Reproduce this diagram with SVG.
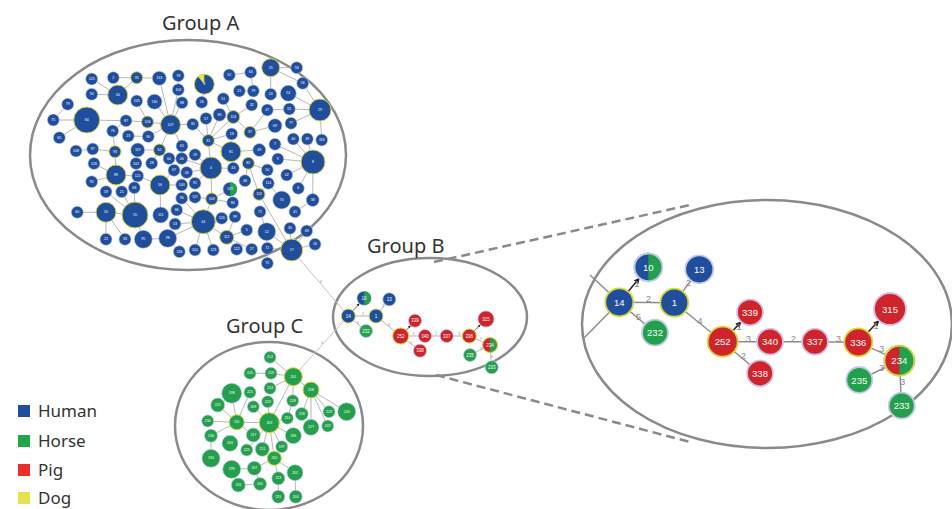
<svg xmlns="http://www.w3.org/2000/svg" width="952" height="509" viewBox="0 0 952 509">
<style>
.h{fill:#1f4e9c;stroke:#c3c9ea;stroke-width:.6}
.g{fill:#22a04b;stroke:#c3c9ea;stroke-width:.6}
.r{fill:#d0232a;stroke:#d0c3ea;stroke-width:.6}
.y{stroke:#d4d83a;stroke-width:1}
.big{stroke-width:1.8}
.ring{fill:none}
.ta{font-family:"Liberation Sans",sans-serif;font-size:3.5px;fill:#fff;text-anchor:middle;dominant-baseline:central}
.tb{font-family:"Liberation Sans",sans-serif;font-size:4.5px;fill:#fff;text-anchor:middle;dominant-baseline:central}
.tz{font-family:"Liberation Sans",sans-serif;font-size:9.5px;fill:#fff;text-anchor:middle;dominant-baseline:central}
.e{stroke:#9a9a9a;stroke-width:.7;fill:none}
.ez{stroke:#8c8c8c;stroke-width:1.4;fill:none}
.ea{stroke:#222;stroke-width:1.5;fill:none;marker-end:url(#ar)}
.eb{stroke:#333;stroke-width:.7;fill:none;marker-end:url(#ar)}
.lz{font-family:"Liberation Sans",sans-serif;font-size:9.5px;fill:#8a8a8a;text-anchor:middle;dominant-baseline:central}
.lb{font-family:"Liberation Sans",sans-serif;font-size:3.6px;fill:#8a8a8a;text-anchor:middle;dominant-baseline:central}
.grp{fill:none;stroke:#8a8a8a;stroke-width:2.5}
.dash{stroke:#8a8a8a;stroke-width:2.5;stroke-dasharray:9 5;fill:none}
.title{font-family:"Noto Sans",sans-serif;font-size:20px;fill:#333}
.leg{font-family:"Noto Sans",sans-serif;font-size:17px;fill:#333}
</style>
<defs>
<marker id="ar" viewBox="0 0 10 10" refX="9" refY="5" markerWidth="4" markerHeight="4" orient="auto"><path d="M0,0 L10,5 L0,10 z" fill="#222"/></marker>
</defs>
<rect width="952" height="509" fill="#fff"/>

<g id="group-outlines">
<ellipse class="grp" cx="188" cy="155" rx="158" ry="115"/>
<ellipse class="grp" cx="430" cy="317" rx="97" ry="59"/>
<ellipse class="grp" cx="269" cy="426" rx="94" ry="84"/>
<ellipse class="grp" cx="767" cy="324" rx="185" ry="124"/>
<line class="dash" x1="434" y1="262" x2="690" y2="205"/>
<line class="dash" x1="436" y1="375" x2="690" y2="442"/>
</g>

<g id="titles">
<text class="title" x="162" y="30">Group A</text>
<text class="title" x="367" y="253">Group B</text>
<text class="title" x="226" y="333">Group C</text>
</g>

<g id="legend">
<rect x="18" y="405" width="12" height="12" fill="#1f4e9c"/><text class="leg" x="38" y="417">Human</text>
<rect x="18" y="435" width="12" height="12" fill="#22a84a"/><text class="leg" x="38" y="447">Horse</text>
<rect x="18" y="464" width="12" height="12" fill="#e8302a"/><text class="leg" x="38" y="476">Pig</text>
<rect x="18" y="492" width="12" height="12" fill="#e6e34a"/><text class="leg" x="38" y="504">Dog</text>
</g>

<g id="connectors">
<line class="e" x1="91.7" y1="79" x2="117.7" y2="95"/>
<line class="e" x1="113.3" y1="77.7" x2="136.7" y2="77.7"/>
<line class="e" x1="136.7" y1="77.7" x2="117.7" y2="95"/>
<line class="e" x1="136.7" y1="77.7" x2="159.3" y2="78.3"/>
<line class="e" x1="91.7" y1="94.3" x2="117.7" y2="95"/>
<line class="e" x1="159.3" y1="78.3" x2="170.5" y2="124.7"/>
<line class="e" x1="178.3" y1="89.7" x2="170.5" y2="124.7"/>
<line class="e" x1="178.3" y1="75.7" x2="178.3" y2="89.7"/>
<line class="e" x1="182" y1="102.7" x2="170.5" y2="124.7"/>
<line class="e" x1="154.5" y1="101.7" x2="170.5" y2="124.7"/>
<line class="e" x1="136.7" y1="101" x2="147.5" y2="122"/>
<line class="e" x1="67.7" y1="104.3" x2="53.3" y2="120"/>
<line class="e" x1="53.3" y1="120" x2="86.7" y2="120"/>
<line class="e" x1="59.3" y1="137.7" x2="86.7" y2="120"/>
<line class="e" x1="86.7" y1="120" x2="126" y2="120.7"/>
<line class="e" x1="126" y1="120.7" x2="147.5" y2="122"/>
<line class="e" x1="147.5" y1="122" x2="170.5" y2="124.7"/>
<line class="e" x1="112.7" y1="131" x2="126" y2="120.7"/>
<line class="e" x1="112.7" y1="131" x2="115" y2="151.7"/>
<line class="e" x1="128.3" y1="136" x2="148.3" y2="136.5"/>
<line class="e" x1="148.3" y1="136.5" x2="170.5" y2="124.7"/>
<line class="e" x1="170.5" y1="124.7" x2="159.5" y2="150"/>
<line class="e" x1="170.5" y1="124.7" x2="192.7" y2="124.3"/>
<line class="e" x1="170.5" y1="124.7" x2="182" y2="146"/>
<line class="e" x1="76" y1="151" x2="92.7" y2="149"/>
<line class="e" x1="92.7" y1="149" x2="115" y2="151.7"/>
<line class="e" x1="115" y1="151.7" x2="116" y2="175"/>
<line class="e" x1="137.7" y1="150" x2="159.5" y2="150"/>
<line class="e" x1="159.5" y1="150" x2="169" y2="158.5"/>
<line class="e" x1="159.5" y1="150" x2="151.7" y2="163.3"/>
<line class="e" x1="169" y1="158.5" x2="181.7" y2="158.5"/>
<line class="e" x1="94" y1="163.5" x2="116" y2="175"/>
<line class="e" x1="91.7" y1="181.7" x2="116" y2="175"/>
<line class="e" x1="116" y1="175" x2="137.7" y2="176"/>
<line class="e" x1="136" y1="163.5" x2="137.7" y2="176"/>
<line class="e" x1="137.7" y1="176" x2="160" y2="185"/>
<line class="e" x1="174" y1="170.3" x2="160" y2="185"/>
<line class="e" x1="181.7" y1="185" x2="160" y2="185"/>
<line class="e" x1="160" y1="185" x2="160.7" y2="215"/>
<line class="e" x1="134.3" y1="187.7" x2="135" y2="215"/>
<line class="e" x1="106" y1="191.7" x2="135" y2="215"/>
<line class="e" x1="121.7" y1="191.7" x2="135" y2="215"/>
<line class="e" x1="77.3" y1="212.3" x2="106" y2="212.3"/>
<line class="e" x1="106" y1="212.3" x2="135" y2="215"/>
<line class="e" x1="106" y1="212.3" x2="106" y2="239.3"/>
<line class="e" x1="106" y1="212.3" x2="125" y2="239.3"/>
<line class="e" x1="135" y1="215" x2="143.3" y2="239.3"/>
<line class="e" x1="143.3" y1="239.3" x2="167.7" y2="238.3"/>
<line class="e" x1="167.7" y1="238.3" x2="179.3" y2="251.7"/>
<line class="e" x1="167.7" y1="238.3" x2="203.3" y2="221.7"/>
<line class="e" x1="175" y1="224" x2="203.3" y2="221.7"/>
<line class="e" x1="176.7" y1="210" x2="203.3" y2="221.7"/>
<line class="e" x1="181.7" y1="198.3" x2="203.3" y2="221.7"/>
<line class="e" x1="229.3" y1="75" x2="250.7" y2="72.3"/>
<line class="e" x1="270.7" y1="67.7" x2="296.7" y2="67.7"/>
<line class="e" x1="270.7" y1="67.7" x2="302.7" y2="83.3"/>
<line class="e" x1="270.7" y1="67.7" x2="270.7" y2="94.3"/>
<line class="e" x1="302.7" y1="83.3" x2="320" y2="110"/>
<line class="e" x1="288.3" y1="93.3" x2="320" y2="110"/>
<line class="e" x1="289.3" y1="109" x2="320" y2="110"/>
<line class="e" x1="267.3" y1="110" x2="289.3" y2="109"/>
<line class="e" x1="291" y1="123.3" x2="320" y2="110"/>
<line class="e" x1="320" y1="110" x2="321.7" y2="140"/>
<line class="e" x1="239.3" y1="91" x2="253.3" y2="91"/>
<line class="e" x1="250.7" y1="72.3" x2="253.3" y2="91"/>
<line class="e" x1="223.3" y1="98.8" x2="233.3" y2="117"/>
<line class="e" x1="204.3" y1="84.3" x2="201.7" y2="102.3"/>
<line class="e" x1="206" y1="118.5" x2="208.3" y2="140.5"/>
<line class="e" x1="219.5" y1="114.7" x2="208.3" y2="140.5"/>
<line class="e" x1="192.7" y1="124.3" x2="208.3" y2="140.5"/>
<line class="e" x1="233.3" y1="117" x2="208.3" y2="140.5"/>
<line class="e" x1="233.3" y1="117" x2="251.7" y2="105"/>
<line class="e" x1="208.3" y1="140.5" x2="231.7" y2="134"/>
<line class="e" x1="208.3" y1="140.5" x2="231" y2="151.7"/>
<line class="e" x1="250" y1="132.3" x2="267.3" y2="110"/>
<line class="e" x1="250" y1="132.3" x2="275" y2="125.7"/>
<line class="e" x1="250" y1="132.3" x2="233.3" y2="117"/>
<line class="e" x1="293.3" y1="139" x2="313" y2="162"/>
<line class="e" x1="307.3" y1="139" x2="313" y2="162"/>
<line class="e" x1="275" y1="144.3" x2="313" y2="162"/>
<line class="e" x1="277.8" y1="159" x2="313" y2="162"/>
<line class="e" x1="231" y1="151.7" x2="259.3" y2="150"/>
<line class="e" x1="231" y1="151.7" x2="233.3" y2="168.3"/>
<line class="e" x1="211" y1="168" x2="233.3" y2="168.3"/>
<line class="e" x1="211" y1="168" x2="186.7" y2="172.5"/>
<line class="e" x1="211" y1="168" x2="208.3" y2="140.5"/>
<line class="e" x1="211" y1="168" x2="195" y2="154.7"/>
<line class="e" x1="211" y1="168" x2="195" y2="183.3"/>
<line class="e" x1="211" y1="168" x2="211.7" y2="199"/>
<line class="e" x1="211" y1="168" x2="181.7" y2="158.5"/>
<line class="e" x1="248.3" y1="163.3" x2="245" y2="180.7"/>
<line class="e" x1="248.3" y1="163.3" x2="259" y2="194.3"/>
<line class="e" x1="248.3" y1="163.3" x2="267.3" y2="170"/>
<line class="e" x1="259" y1="194.3" x2="291.7" y2="250"/>
<line class="e" x1="259" y1="194.3" x2="268.3" y2="183.3"/>
<line class="e" x1="286.7" y1="175" x2="313" y2="162"/>
<line class="e" x1="298.3" y1="188.3" x2="313" y2="162"/>
<line class="e" x1="312.7" y1="200" x2="313" y2="162"/>
<line class="e" x1="295" y1="211.7" x2="312.7" y2="200"/>
<line class="e" x1="268.3" y1="183.3" x2="281.7" y2="200"/>
<line class="e" x1="211.7" y1="199" x2="232.7" y2="202.7"/>
<line class="e" x1="211.7" y1="199" x2="195" y2="197.3"/>
<line class="e" x1="211.7" y1="199" x2="203.3" y2="221.7"/>
<line class="e" x1="230" y1="189.3" x2="211.7" y2="199"/>
<line class="e" x1="203.3" y1="221.7" x2="221.7" y2="218.3"/>
<line class="e" x1="203.3" y1="221.7" x2="226.7" y2="237.3"/>
<line class="e" x1="235" y1="216.7" x2="226.7" y2="237.3"/>
<line class="e" x1="226.7" y1="237.3" x2="246.7" y2="230"/>
<line class="e" x1="226.7" y1="237.3" x2="236.7" y2="249.3"/>
<line class="e" x1="226.7" y1="237.3" x2="251.7" y2="249.3"/>
<line class="e" x1="203.3" y1="221.7" x2="195" y2="250"/>
<line class="e" x1="203.3" y1="221.7" x2="213.3" y2="250"/>
<line class="e" x1="266.7" y1="231.7" x2="260" y2="211.7"/>
<line class="e" x1="266.7" y1="231.7" x2="267.3" y2="248.3"/>
<line class="e" x1="267.3" y1="248.3" x2="291.7" y2="250"/>
<line class="e" x1="290" y1="228.3" x2="291.7" y2="250"/>
<line class="e" x1="306.7" y1="231" x2="291.7" y2="250"/>
<line class="e" x1="315" y1="244.3" x2="291.7" y2="250"/>
<line class="e" x1="266.7" y1="231.7" x2="291.7" y2="250"/>
<line class="e" x1="267.3" y1="263.3" x2="267.3" y2="248.3"/>

<line stroke="#c4c4c4" stroke-width="1" x1="291.7" y1="250" x2="348.3" y2="316"/>
<line stroke="#c4c4c4" stroke-width="1" x1="293.3" y1="376.7" x2="348.3" y2="316"/>
<text class="lb" x="321" y="282">6</text>
<text class="lb" x="322" y="343">4</text>

<line class="e" x1="270" y1="357.3" x2="293.3" y2="376.7"/>
<line class="e" x1="250" y1="373.3" x2="271" y2="373.3"/>
<line class="e" x1="271" y1="373.3" x2="293.3" y2="376.7"/>
<line class="e" x1="270" y1="388.3" x2="293.3" y2="376.7"/>
<line class="e" x1="293.3" y1="376.7" x2="311" y2="390"/>
<line class="e" x1="293.3" y1="376.7" x2="269.3" y2="422.7"/>
<line class="e" x1="293.3" y1="376.7" x2="292.7" y2="400.7"/>
<line class="e" x1="311" y1="390" x2="301.7" y2="414"/>
<line class="e" x1="311" y1="390" x2="311" y2="427.3"/>
<line class="e" x1="311" y1="390" x2="329" y2="411.7"/>
<line class="e" x1="311" y1="390" x2="327.7" y2="426"/>
<line class="e" x1="311" y1="390" x2="346.7" y2="411.7"/>
<line class="e" x1="231.7" y1="393.3" x2="236.7" y2="422.3"/>
<line class="e" x1="250" y1="392.3" x2="236.7" y2="422.3"/>
<line class="e" x1="217.7" y1="405" x2="236.7" y2="422.3"/>
<line class="e" x1="207.7" y1="421" x2="236.7" y2="422.3"/>
<line class="e" x1="211" y1="435.7" x2="236.7" y2="422.3"/>
<line class="e" x1="236.7" y1="422.3" x2="269.3" y2="422.7"/>
<line class="e" x1="253.3" y1="406.7" x2="269.3" y2="422.7"/>
<line class="e" x1="267.7" y1="401.7" x2="269.3" y2="422.7"/>
<line class="e" x1="236.7" y1="422.3" x2="253.3" y2="435"/>
<line class="e" x1="269.3" y1="422.7" x2="287.3" y2="418.3"/>
<line class="e" x1="292.7" y1="400.7" x2="287.3" y2="418.3"/>
<line class="e" x1="269.3" y1="422.7" x2="293.3" y2="435.7"/>
<line class="e" x1="269.3" y1="422.7" x2="262.3" y2="449.3"/>
<line class="e" x1="269.3" y1="422.7" x2="246.7" y2="450"/>
<line class="e" x1="269.3" y1="422.7" x2="274.3" y2="458.3"/>
<line class="e" x1="269.3" y1="422.7" x2="281.7" y2="446.7"/>
<line class="e" x1="211" y1="435.7" x2="211" y2="458.3"/>
<line class="e" x1="274.3" y1="458.3" x2="254.3" y2="468.3"/>
<line class="e" x1="274.3" y1="458.3" x2="278.3" y2="478.3"/>
<line class="e" x1="274.3" y1="458.3" x2="295" y2="472.7"/>
<line class="e" x1="231.7" y1="469.3" x2="254.3" y2="468.3"/>
<line class="e" x1="238.3" y1="485" x2="260" y2="484"/>
<line class="e" x1="260" y1="484" x2="254.3" y2="468.3"/>
<line class="e" x1="278.3" y1="478.3" x2="278.3" y2="496.7"/>
<line class="e" x1="295" y1="472.7" x2="295.7" y2="496.7"/>

<line class="e" x1="348.3" y1="316" x2="376" y2="316"/>
<line class="e" x1="376" y1="316" x2="389.3" y2="299.3"/>
<line class="e" x1="348.3" y1="316" x2="366" y2="331"/>
<line class="e" x1="376" y1="316" x2="400.7" y2="336"/>
<line class="e" x1="400.7" y1="336" x2="425" y2="336"/>
<line class="e" x1="400.7" y1="336" x2="420" y2="350.7"/>
<line class="e" x1="425" y1="336" x2="446.7" y2="336"/>
<line class="e" x1="446.7" y1="336" x2="469.3" y2="336"/>
<line class="e" x1="469.3" y1="336" x2="490" y2="345"/>
<line class="e" x1="470" y1="355" x2="490" y2="345"/>
<line class="e" x1="490" y1="345" x2="491.7" y2="367.3"/>
<line class="eb" x1="352.9" y1="310.8" x2="359.4" y2="303.5"/>
<line class="eb" x1="406.2" y1="330.1" x2="410.6" y2="325.5"/>
<line class="eb" x1="474.2" y1="331" x2="480.4" y2="324.7"/>
<text class="lb" x="356.8" y="306">1</text>
<text class="lb" x="383.2" y="306">2</text>
<text class="lb" x="363" y="314.2">2</text>
<text class="lb" x="357.9" y="323">5</text>
<text class="lb" x="389.1" y="325">4</text>
<text class="lb" x="408.5" y="328">1</text>
<text class="lb" x="413.6" y="334.2">3</text>
<text class="lb" x="411" y="342.7">2</text>
<text class="lb" x="436.3" y="334.2">2</text>
<text class="lb" x="459.1" y="334.2">3</text>
<text class="lb" x="477.7" y="327.5">1</text>
<text class="lb" x="481.1" y="339.3">3</text>
<text class="lb" x="481.1" y="348.9">3</text>
<text class="lb" x="491.7" y="356.5">3</text>

<line class="ez" x1="619.3" y1="302.3" x2="590" y2="275"/>
<line class="ez" x1="619.3" y1="302.3" x2="583.5" y2="338.5"/>
<line class="ez" x1="619.3" y1="302.3" x2="674.3" y2="302.7"/>
<line class="ez" x1="674.3" y1="302.7" x2="699.3" y2="269.3"/>
<line class="ez" x1="619.3" y1="302.3" x2="655" y2="332.7"/>
<line class="ez" x1="674.3" y1="302.7" x2="722.7" y2="341.7"/>
<line class="ez" x1="722.7" y1="341.7" x2="770" y2="341.7"/>
<line class="ez" x1="722.7" y1="341.7" x2="760" y2="373.3"/>
<line class="ez" x1="770" y1="341.7" x2="815" y2="341.7"/>
<line class="ez" x1="815" y1="341.7" x2="858.3" y2="342.3"/>
<line class="ez" x1="858.3" y1="342.3" x2="899.3" y2="360.7"/>
<line class="ez" x1="859.3" y1="380" x2="899.3" y2="360.7"/>
<line class="ez" x1="899.3" y1="360.7" x2="901.7" y2="405.7"/>
<line class="ea" x1="628.2" y1="291.5" x2="639.4" y2="278.1"/>
<line class="ea" x1="732.9" y1="330.7" x2="741.1" y2="321.8"/>
<line class="ea" x1="868" y1="332.2" x2="879" y2="320.6"/>
<text class="lz" x="637" y="283">1</text>
<text class="lz" x="688.3" y="282.7">2</text>
<text class="lz" x="648.3" y="298.5">2</text>
<text class="lz" x="638.3" y="316">5</text>
<text class="lz" x="700" y="320">4</text>
<text class="lz" x="739" y="326">1</text>
<text class="lz" x="748.3" y="338">3</text>
<text class="lz" x="743.3" y="355">2</text>
<text class="lz" x="793.3" y="338">2</text>
<text class="lz" x="838.3" y="338">3</text>
<text class="lz" x="876" y="325">1</text>
<text class="lz" x="881.7" y="348.3">3</text>
<text class="lz" x="881.7" y="367.3">3</text>
<text class="lz" x="902.7" y="381.7">3</text>
</g>

<g id="nodes-group-a">
<g id="a125"><circle class="h" cx="91.7" cy="79" r="6"/><text class="ta" x="91.7" y="79">125</text></g>
<g id="a2"><circle class="h" cx="113.3" cy="77.7" r="6"/><text class="ta" x="113.3" y="77.7">2</text></g>
<g id="a35"><circle class="h y" cx="136.7" cy="77.7" r="6"/><text class="ta" x="136.7" y="77.7">35</text></g>
<g id="a113"><circle class="h" cx="159.3" cy="78.3" r="7"/><text class="ta" x="159.3" y="78.3">113</text></g>
<g id="a78"><circle class="h" cx="178.3" cy="75.7" r="6"/><text class="ta" x="178.3" y="75.7">78</text></g>
<g id="a104"><circle class="h" cx="178.3" cy="89.7" r="6"/><text class="ta" x="178.3" y="89.7">104</text></g>
<g id="a94"><circle class="h" cx="91.7" cy="94.3" r="6"/><text class="ta" x="91.7" y="94.3">94</text></g>
<g id="a34"><circle class="h y" cx="117.7" cy="95" r="10"/><text class="ta" x="117.7" y="95">34</text></g>
<g id="a105"><circle class="h" cx="136.7" cy="101" r="6"/><text class="ta" x="136.7" y="101">105</text></g>
<g id="a110"><circle class="h" cx="154.5" cy="101.7" r="7.5"/><text class="ta" x="154.5" y="101.7">110</text></g>
<g id="a88"><circle class="h" cx="182" cy="102.7" r="6"/><text class="ta" x="182" y="102.7">88</text></g>
<g id="a79"><circle class="h" cx="67.7" cy="104.3" r="6"/><text class="ta" x="67.7" y="104.3">79</text></g>
<g id="a75"><circle class="h" cx="53.3" cy="120" r="6"/><text class="ta" x="53.3" y="120">75</text></g>
<g id="a84"><circle class="h y" cx="86.7" cy="120" r="13"/><text class="ta" x="86.7" y="120">84</text></g>
<g id="a87"><circle class="h" cx="126" cy="120.7" r="6"/><text class="ta" x="126" y="120.7">87</text></g>
<g id="a106"><circle class="h y" cx="147.5" cy="122" r="6"/><text class="ta" x="147.5" y="122">106</text></g>
<g id="a107"><circle class="h y" cx="170.5" cy="124.7" r="10"/><text class="ta" x="170.5" y="124.7">107</text></g>
<g id="a65"><circle class="h" cx="59.3" cy="137.7" r="6"/><text class="ta" x="59.3" y="137.7">65</text></g>
<g id="a76"><circle class="h" cx="112.7" cy="131" r="6"/><text class="ta" x="112.7" y="131">76</text></g>
<g id="a23"><circle class="h" cx="128.3" cy="136" r="6"/><text class="ta" x="128.3" y="136">23</text></g>
<g id="a90"><circle class="h" cx="148.3" cy="136.5" r="6"/><text class="ta" x="148.3" y="136.5">90</text></g>
<g id="a61"><circle class="h" cx="182" cy="146" r="6"/><text class="ta" x="182" y="146">61</text></g>
<g id="a108"><circle class="h" cx="76" cy="151" r="6"/><text class="ta" x="76" y="151">108</text></g>
<g id="a97"><circle class="h" cx="92.7" cy="149" r="6"/><text class="ta" x="92.7" y="149">97</text></g>
<g id="a93"><circle class="h y" cx="115" cy="151.7" r="6"/><text class="ta" x="115" y="151.7">93</text></g>
<g id="a119"><circle class="h" cx="137.7" cy="150" r="7"/><text class="ta" x="137.7" y="150">119</text></g>
<g id="a62"><circle class="h y" cx="159.5" cy="150" r="6"/><text class="ta" x="159.5" y="150">62</text></g>
<g id="a64"><circle class="h" cx="169" cy="158.5" r="6"/><text class="ta" x="169" y="158.5">64</text></g>
<g id="a46"><circle class="h" cx="181.7" cy="158.5" r="6"/><text class="ta" x="181.7" y="158.5">46</text></g>
<g id="a126"><circle class="h" cx="94" cy="163.5" r="6"/><text class="ta" x="94" y="163.5">126</text></g>
<g id="a102"><circle class="h" cx="136" cy="163.5" r="6"/><text class="ta" x="136" y="163.5">102</text></g>
<g id="a28"><circle class="h" cx="151.7" cy="163.3" r="6"/><text class="ta" x="151.7" y="163.3">28</text></g>
<g id="a3"><circle class="h y" cx="204.3" cy="84.3" r="10"/><path d="M204.3,84.3 L204.3,74.3 A10,10 0 0 0 197.9,76.6 Z" fill="#e6e34a"/><text class="ta" x="204.3" y="84.3">3</text></g>
<g id="a52"><circle class="h" cx="229.3" cy="75" r="6"/><text class="ta" x="229.3" y="75">52</text></g>
<g id="a63"><circle class="h" cx="250.7" cy="72.3" r="6"/><text class="ta" x="250.7" y="72.3">63</text></g>
<g id="a25"><circle class="h y" cx="270.7" cy="67.7" r="9"/><text class="ta" x="270.7" y="67.7">25</text></g>
<g id="a58"><circle class="h" cx="296.7" cy="67.7" r="6"/><text class="ta" x="296.7" y="67.7">58</text></g>
<g id="a21"><circle class="h" cx="239.3" cy="91" r="6"/><text class="ta" x="239.3" y="91">21</text></g>
<g id="a79b"><circle class="h" cx="253.3" cy="91" r="6"/><text class="ta" x="253.3" y="91">79</text></g>
<g id="a56"><circle class="h" cx="302.7" cy="83.3" r="6"/><text class="ta" x="302.7" y="83.3">56</text></g>
<g id="a26"><circle class="h" cx="201.7" cy="102.3" r="6"/><text class="ta" x="201.7" y="102.3">26</text></g>
<g id="a51"><circle class="h" cx="223.3" cy="98.8" r="6"/><text class="ta" x="223.3" y="98.8">51</text></g>
<g id="a24"><circle class="h" cx="270.7" cy="94.3" r="6"/><text class="ta" x="270.7" y="94.3">24</text></g>
<g id="a54"><circle class="h" cx="288.3" cy="93.3" r="8"/><text class="ta" x="288.3" y="93.3">54</text></g>
<g id="a32"><circle class="h" cx="251.7" cy="105" r="6"/><text class="ta" x="251.7" y="105">32</text></g>
<g id="a57"><circle class="h" cx="206" cy="118.5" r="6"/><text class="ta" x="206" y="118.5">57</text></g>
<g id="a83"><circle class="h" cx="219.5" cy="114.7" r="6.5"/><text class="ta" x="219.5" y="114.7">83</text></g>
<g id="a124"><circle class="h y" cx="233.3" cy="117" r="6.5"/><text class="ta" x="233.3" y="117">124</text></g>
<g id="a47"><circle class="h" cx="267.3" cy="110" r="6"/><text class="ta" x="267.3" y="110">47</text></g>
<g id="a55"><circle class="h" cx="289.3" cy="109" r="6"/><text class="ta" x="289.3" y="109">55</text></g>
<g id="a29"><circle class="h y" cx="320" cy="110" r="11"/><text class="ta" x="320" y="110">29</text></g>
<g id="a30"><circle class="h" cx="192.7" cy="124.3" r="6"/><text class="ta" x="192.7" y="124.3">30</text></g>
<g id="a18"><circle class="h" cx="231.7" cy="134" r="6"/><text class="ta" x="231.7" y="134">18</text></g>
<g id="a37"><circle class="h y" cx="250" cy="132.3" r="6"/><text class="ta" x="250" y="132.3">37</text></g>
<g id="a69"><circle class="h" cx="275" cy="125.7" r="7"/><text class="ta" x="275" y="125.7">69</text></g>
<g id="a77"><circle class="h" cx="291" cy="123.3" r="6"/><text class="ta" x="291" y="123.3">77</text></g>
<g id="a31"><circle class="h y" cx="208.3" cy="140.5" r="6"/><text class="ta" x="208.3" y="140.5">31</text></g>
<g id="a40"><circle class="h" cx="293.3" cy="139" r="6"/><text class="ta" x="293.3" y="139">40</text></g>
<g id="a39"><circle class="h" cx="307.3" cy="139" r="6"/><text class="ta" x="307.3" y="139">39</text></g>
<g id="a118"><circle class="h" cx="321.7" cy="140" r="6"/><text class="ta" x="321.7" y="140">118</text></g>
<g id="a81"><circle class="h y" cx="231" cy="151.7" r="10"/><text class="ta" x="231" y="151.7">81</text></g>
<g id="a49"><circle class="h" cx="259.3" cy="150" r="6.5"/><text class="ta" x="259.3" y="150">49</text></g>
<g id="a7"><circle class="h" cx="275" cy="144.3" r="6"/><text class="ta" x="275" y="144.3">7</text></g>
<g id="a19"><circle class="h" cx="195" cy="154.7" r="6"/><text class="ta" x="195" y="154.7">19</text></g>
<g id="a9"><circle class="h" cx="277.8" cy="159" r="6"/><text class="ta" x="277.8" y="159">9</text></g>
<g id="a8"><circle class="h y" cx="313" cy="162" r="12"/><text class="ta" x="313" y="162">8</text></g>
<g id="a89"><circle class="h y" cx="116" cy="175" r="10"/><text class="ta" x="116" y="175">89</text></g>
<g id="a92"><circle class="h" cx="91.7" cy="181.7" r="6"/><text class="ta" x="91.7" y="181.7">92</text></g>
<g id="a121"><circle class="h" cx="137.7" cy="176" r="6"/><text class="ta" x="137.7" y="176">121</text></g>
<g id="a67"><circle class="h" cx="174" cy="170.3" r="6"/><text class="ta" x="174" y="170.3">67</text></g>
<g id="a56b"><circle class="h y" cx="160" cy="185" r="10"/><text class="ta" x="160" y="185">56</text></g>
<g id="a100"><circle class="h" cx="181.7" cy="185" r="6"/><text class="ta" x="181.7" y="185">100</text></g>
<g id="a59"><circle class="h" cx="106" cy="191.7" r="6"/><text class="ta" x="106" y="191.7">59</text></g>
<g id="a21b"><circle class="h" cx="121.7" cy="191.7" r="6"/><text class="ta" x="121.7" y="191.7">21</text></g>
<g id="a68"><circle class="h" cx="134.3" cy="187.7" r="6"/><text class="ta" x="134.3" y="187.7">68</text></g>
<g id="a96"><circle class="h" cx="181.7" cy="198.3" r="6"/><text class="ta" x="181.7" y="198.3">96</text></g>
<g id="a60"><circle class="h" cx="77.3" cy="212.3" r="6"/><text class="ta" x="77.3" y="212.3">60</text></g>
<g id="a20"><circle class="h y" cx="106" cy="212.3" r="10"/><text class="ta" x="106" y="212.3">20</text></g>
<g id="a15"><circle class="h y" cx="135" cy="215" r="13"/><text class="ta" x="135" y="215">15</text></g>
<g id="a111"><circle class="h" cx="160.7" cy="215" r="8"/><text class="ta" x="160.7" y="215">111</text></g>
<g id="a86"><circle class="h" cx="176.7" cy="210" r="6"/><text class="ta" x="176.7" y="210">86</text></g>
<g id="a53"><circle class="h" cx="175" cy="224" r="6"/><text class="ta" x="175" y="224">53</text></g>
<g id="a22"><circle class="h" cx="106" cy="239.3" r="6"/><text class="ta" x="106" y="239.3">22</text></g>
<g id="a33"><circle class="h" cx="125" cy="239.3" r="6"/><text class="ta" x="125" y="239.3">33</text></g>
<g id="a95"><circle class="h" cx="143.3" cy="239.3" r="9"/><text class="ta" x="143.3" y="239.3">95</text></g>
<g id="a98"><circle class="h" cx="167.7" cy="238.3" r="9"/><text class="ta" x="167.7" y="238.3">98</text></g>
<g id="a118b"><circle class="h" cx="179.3" cy="251.7" r="6"/><text class="ta" x="179.3" y="251.7">118</text></g>
<g id="a4"><circle class="h y" cx="211" cy="168" r="11"/><text class="ta" x="211" y="168">4</text></g>
<g id="a43"><circle class="h" cx="233.3" cy="168.3" r="6"/><text class="ta" x="233.3" y="168.3">43</text></g>
<g id="a82"><circle class="h y" cx="248.3" cy="163.3" r="6"/><text class="ta" x="248.3" y="163.3">82</text></g>
<g id="a45"><circle class="h" cx="186.7" cy="172.5" r="6"/><text class="ta" x="186.7" y="172.5">45</text></g>
<g id="a50"><circle class="h" cx="267.3" cy="170" r="6"/><text class="ta" x="267.3" y="170">50</text></g>
<g id="a48"><circle class="h" cx="245" cy="180.7" r="6"/><text class="ta" x="245" y="180.7">48</text></g>
<g id="a42"><circle class="h" cx="286.7" cy="175" r="6"/><text class="ta" x="286.7" y="175">42</text></g>
<g id="a114"><circle class="h" cx="268.3" cy="183.3" r="6"/><text class="ta" x="268.3" y="183.3">114</text></g>
<g id="a91"><circle class="h" cx="195" cy="183.3" r="6"/><text class="ta" x="195" y="183.3">91</text></g>
<g id="a129"><circle class="h" cx="230" cy="189.3" r="7"/><path d="M230,182.3 A7,7 0 0 1 230,196.3 Z" fill="#22a04b"/><text class="ta" x="230" y="189.3">129</text></g>
<g id="a6"><circle class="h" cx="298.3" cy="188.3" r="6"/><text class="ta" x="298.3" y="188.3">6</text></g>
<g id="a103"><circle class="h y" cx="211.7" cy="199" r="6"/><text class="ta" x="211.7" y="199">103</text></g>
<g id="a113b"><circle class="h y" cx="259" cy="194.3" r="6"/><text class="ta" x="259" y="194.3">113</text></g>
<g id="a70"><circle class="h" cx="281.7" cy="200" r="9"/><text class="ta" x="281.7" y="200">70</text></g>
<g id="a38"><circle class="h" cx="312.7" cy="200" r="6.5"/><text class="ta" x="312.7" y="200">38</text></g>
<g id="a117"><circle class="h" cx="195" cy="197.3" r="6"/><text class="ta" x="195" y="197.3">117</text></g>
<g id="a80"><circle class="h" cx="232.7" cy="202.7" r="6"/><text class="ta" x="232.7" y="202.7">80</text></g>
<g id="a41"><circle class="h" cx="295" cy="211.7" r="6"/><text class="ta" x="295" y="211.7">41</text></g>
<g id="a71"><circle class="h" cx="260" cy="211.7" r="6"/><text class="ta" x="260" y="211.7">71</text></g>
<g id="a44"><circle class="h y" cx="203.3" cy="221.7" r="12"/><text class="ta" x="203.3" y="221.7">44</text></g>
<g id="a120"><circle class="h" cx="221.7" cy="218.3" r="6"/><text class="ta" x="221.7" y="218.3">120</text></g>
<g id="a99"><circle class="h" cx="235" cy="216.7" r="6"/><text class="ta" x="235" y="216.7">99</text></g>
<g id="a5"><circle class="h" cx="246.7" cy="230" r="6"/><text class="ta" x="246.7" y="230">5</text></g>
<g id="a12"><circle class="h" cx="266.7" cy="231.7" r="9"/><text class="ta" x="266.7" y="231.7">12</text></g>
<g id="a30b"><circle class="h" cx="290" cy="228.3" r="6"/><text class="ta" x="290" y="228.3">30</text></g>
<g id="a68b"><circle class="h" cx="306.7" cy="231" r="6"/><text class="ta" x="306.7" y="231">68</text></g>
<g id="a112"><circle class="h y" cx="226.7" cy="237.3" r="7"/><text class="ta" x="226.7" y="237.3">112</text></g>
<g id="a16"><circle class="h" cx="315" cy="244.3" r="6"/><text class="ta" x="315" y="244.3">16</text></g>
<g id="a72"><circle class="h" cx="267.3" cy="248.3" r="6"/><text class="ta" x="267.3" y="248.3">72</text></g>
<g id="a17"><circle class="h y" cx="291.7" cy="250" r="11"/><text class="ta" x="291.7" y="250">17</text></g>
<g id="a101"><circle class="h" cx="195" cy="250" r="6"/><text class="ta" x="195" y="250">101</text></g>
<g id="a123"><circle class="h" cx="213.3" cy="250" r="6"/><text class="ta" x="213.3" y="250">123</text></g>
<g id="a122"><circle class="h" cx="236.7" cy="249.3" r="6"/><text class="ta" x="236.7" y="249.3">122</text></g>
<g id="a27"><circle class="h" cx="251.7" cy="249.3" r="6"/><text class="ta" x="251.7" y="249.3">27</text></g>
<g id="a75b"><circle class="h" cx="267.3" cy="263.3" r="6"/><text class="ta" x="267.3" y="263.3">75</text></g>
</g>

<g id="nodes-group-c">
<g id="c212"><circle class="g" cx="270" cy="357.3" r="6"/><text class="ta" x="270" y="357.3">212</text></g>
<g id="c220"><circle class="g" cx="250" cy="373.3" r="6"/><text class="ta" x="250" y="373.3">220</text></g>
<g id="c219"><circle class="g" cx="271" cy="373.3" r="6"/><text class="ta" x="271" y="373.3">219</text></g>
<g id="c201"><circle class="g y" cx="293.3" cy="376.7" r="9"/><text class="ta" x="293.3" y="376.7">201</text></g>
<g id="c208"><circle class="g y" cx="311" cy="390" r="8"/><text class="ta" x="311" y="390">208</text></g>
<g id="c198"><circle class="g" cx="231.7" cy="393.3" r="10"/><text class="ta" x="231.7" y="393.3">198</text></g>
<g id="c221"><circle class="g" cx="250" cy="392.3" r="6"/><text class="ta" x="250" y="392.3">221</text></g>
<g id="c224"><circle class="g" cx="270" cy="388.3" r="6"/><text class="ta" x="270" y="388.3">224</text></g>
<g id="c222"><circle class="g" cx="217.7" cy="405" r="7"/><text class="ta" x="217.7" y="405">222</text></g>
<g id="c209"><circle class="g" cx="253.3" cy="406.7" r="6"/><text class="ta" x="253.3" y="406.7">209</text></g>
<g id="c223"><circle class="g" cx="267.7" cy="401.7" r="6"/><text class="ta" x="267.7" y="401.7">223</text></g>
<g id="c228"><circle class="g" cx="292.7" cy="400.7" r="6"/><text class="ta" x="292.7" y="400.7">228</text></g>
<g id="c218"><circle class="g" cx="301.7" cy="414" r="6.5"/><text class="ta" x="301.7" y="414">218</text></g>
<g id="c229"><circle class="g" cx="329" cy="411.7" r="6"/><text class="ta" x="329" y="411.7">229</text></g>
<g id="c226"><circle class="g" cx="346.7" cy="411.7" r="9"/><text class="ta" x="346.7" y="411.7">226</text></g>
<g id="c230"><circle class="g" cx="207.7" cy="421" r="6"/><text class="ta" x="207.7" y="421">230</text></g>
<g id="c231"><circle class="g y" cx="236.7" cy="422.3" r="7.5"/><text class="ta" x="236.7" y="422.3">231</text></g>
<g id="c203"><circle class="g y" cx="269.3" cy="422.7" r="10"/><text class="ta" x="269.3" y="422.7">203</text></g>
<g id="c214"><circle class="g" cx="287.3" cy="418.3" r="6"/><text class="ta" x="287.3" y="418.3">214</text></g>
<g id="c227"><circle class="g" cx="311" cy="427.3" r="8"/><text class="ta" x="311" y="427.3">227</text></g>
<g id="c207"><circle class="g" cx="327.7" cy="426" r="6"/><text class="ta" x="327.7" y="426">207</text></g>
<g id="c236"><circle class="g" cx="211" cy="435.7" r="6.5"/><text class="ta" x="211" y="435.7">236</text></g>
<g id="c217"><circle class="g" cx="253.3" cy="435" r="7"/><text class="ta" x="253.3" y="435">217</text></g>
<g id="c196"><circle class="g" cx="293.3" cy="435.7" r="8"/><text class="ta" x="293.3" y="435.7">196</text></g>
<g id="c200"><circle class="g" cx="230" cy="443.3" r="8"/><text class="ta" x="230" y="443.3">200</text></g>
<g id="c225"><circle class="g" cx="246.7" cy="450" r="6"/><text class="ta" x="246.7" y="450">225</text></g>
<g id="c211"><circle class="g" cx="262.3" cy="449.3" r="7"/><text class="ta" x="262.3" y="449.3">211</text></g>
<g id="c197"><circle class="g" cx="281.7" cy="446.7" r="6"/><text class="ta" x="281.7" y="446.7">197</text></g>
<g id="c194"><circle class="g" cx="211" cy="458.3" r="9"/><text class="ta" x="211" y="458.3">194</text></g>
<g id="c210"><circle class="g y" cx="274.3" cy="458.3" r="7"/><text class="ta" x="274.3" y="458.3">210</text></g>
<g id="c199"><circle class="g" cx="231.7" cy="469.3" r="9"/><text class="ta" x="231.7" y="469.3">199</text></g>
<g id="c207b"><circle class="g" cx="254.3" cy="468.3" r="7"/><text class="ta" x="254.3" y="468.3">207</text></g>
<g id="c202"><circle class="g" cx="295" cy="472.7" r="8"/><text class="ta" x="295" y="472.7">202</text></g>
<g id="c216"><circle class="g" cx="238.3" cy="485" r="7"/><text class="ta" x="238.3" y="485">216</text></g>
<g id="c205"><circle class="g" cx="260" cy="484" r="6.5"/><text class="ta" x="260" y="484">205</text></g>
<g id="c213"><circle class="g" cx="278.3" cy="478.3" r="6.5"/><text class="ta" x="278.3" y="478.3">213</text></g>
<g id="c215"><circle class="g" cx="278.3" cy="496.7" r="6.5"/><text class="ta" x="278.3" y="496.7">215</text></g>
<g id="c204"><circle class="g" cx="295.7" cy="496.7" r="6.5"/><text class="ta" x="295.7" y="496.7">204</text></g>
</g>

<g id="nodes-group-b">
<g id="b10"><circle class="h" cx="364" cy="298.3" r="7"/><path d="M364,291.3 A7,7 0 0 1 364,305.3 Z" fill="#22a04b"/><text class="tb" x="364" y="298.3">10</text></g>
<g id="b13"><circle class="h" cx="389.3" cy="299.3" r="6.5"/><text class="tb" x="389.3" y="299.3">13</text></g>
<g id="b14"><circle class="h y" cx="348.3" cy="316" r="7"/><text class="tb" x="348.3" y="316">14</text></g>
<g id="b1"><circle class="h y" cx="376" cy="316" r="7"/><text class="tb" x="376" y="316">1</text></g>
<g id="b232"><circle class="g" cx="366" cy="331" r="6.5"/><text class="tb" x="366" y="331">232</text></g>
<g id="b339"><circle class="r" cx="415" cy="320.7" r="6.5"/><text class="tb" x="415" y="320.7">339</text></g>
<g id="b252"><circle class="r y" cx="400.7" cy="336" r="8"/><text class="tb" x="400.7" y="336">252</text></g>
<g id="b340"><circle class="r" cx="425" cy="336" r="6.5"/><text class="tb" x="425" y="336">340</text></g>
<g id="b337"><circle class="r" cx="446.7" cy="336" r="6.5"/><text class="tb" x="446.7" y="336">337</text></g>
<g id="b336"><circle class="r y" cx="469.3" cy="336" r="7"/><text class="tb" x="469.3" y="336">336</text></g>
<g id="b315"><circle class="r" cx="486" cy="319" r="8"/><text class="tb" x="486" y="319">315</text></g>
<g id="b234"><circle class="r" cx="490" cy="345" r="7.5"/><path d="M490,337.5 A7.5,7.5 0 0 1 490,352.5 Z" fill="#22a04b"/><circle class="r y ring" cx="490" cy="345" r="7.5"/><text class="tb" x="490" y="345">234</text></g>
<g id="b235"><circle class="g" cx="470" cy="355" r="6.5"/><text class="tb" x="470" y="355">235</text></g>
<g id="b233"><circle class="g" cx="491.7" cy="367.3" r="6.5"/><text class="tb" x="491.7" y="367.3">233</text></g>
<g id="b338"><circle class="r" cx="420" cy="350.7" r="6.5"/><text class="tb" x="420" y="350.7">338</text></g>
</g>

<g id="nodes-zoom">
<g id="z10"><circle class="h big" cx="648.3" cy="267.3" r="14"/><path d="M648.3,253.3 A14,14 0 0 1 648.3,281.3 Z" fill="#22a04b"/><circle class="h big ring" cx="648.3" cy="267.3" r="14"/><text class="tz" x="648.3" y="267.3">10</text></g>
<g id="z13"><circle class="h big" cx="699.3" cy="269.3" r="14"/><text class="tz" x="699.3" y="269.3">13</text></g>
<g id="z14"><circle class="h y big" cx="619.3" cy="302.3" r="14"/><text class="tz" x="619.3" y="302.3">14</text></g>
<g id="z1"><circle class="h y big" cx="674.3" cy="302.7" r="14"/><text class="tz" x="674.3" y="302.7">1</text></g>
<g id="z232"><circle class="g big" cx="655" cy="332.7" r="13"/><text class="tz" x="655" y="332.7">232</text></g>
<g id="z339"><circle class="r big" cx="750" cy="312.3" r="13"/><text class="tz" x="750" y="312.3">339</text></g>
<g id="z252"><circle class="r y big" cx="722.7" cy="341.7" r="15"/><text class="tz" x="722.7" y="341.7">252</text></g>
<g id="z340"><circle class="r big" cx="770" cy="341.7" r="13"/><text class="tz" x="770" y="341.7">340</text></g>
<g id="z337"><circle class="r big" cx="815" cy="341.7" r="13"/><text class="tz" x="815" y="341.7">337</text></g>
<g id="z336"><circle class="r y big" cx="858.3" cy="342.3" r="14"/><text class="tz" x="858.3" y="342.3">336</text></g>
<g id="z315"><circle class="r big" cx="890" cy="309" r="16"/><text class="tz" x="890" y="309">315</text></g>
<g id="z234"><circle class="r big" cx="899.3" cy="360.7" r="15"/><path d="M899.3,345.7 A15,15 0 0 1 899.3,375.7 Z" fill="#22a04b"/><circle class="r y big ring" cx="899.3" cy="360.7" r="15"/><text class="tz" x="899.3" y="360.7">234</text></g>
<g id="z235"><circle class="g big" cx="859.3" cy="380" r="13"/><text class="tz" x="859.3" y="380">235</text></g>
<g id="z233"><circle class="g big" cx="901.7" cy="405.7" r="13"/><text class="tz" x="901.7" y="405.7">233</text></g>
<g id="z338"><circle class="r big" cx="760" cy="373.3" r="13"/><text class="tz" x="760" y="373.3">338</text></g>
</g>
</svg>
